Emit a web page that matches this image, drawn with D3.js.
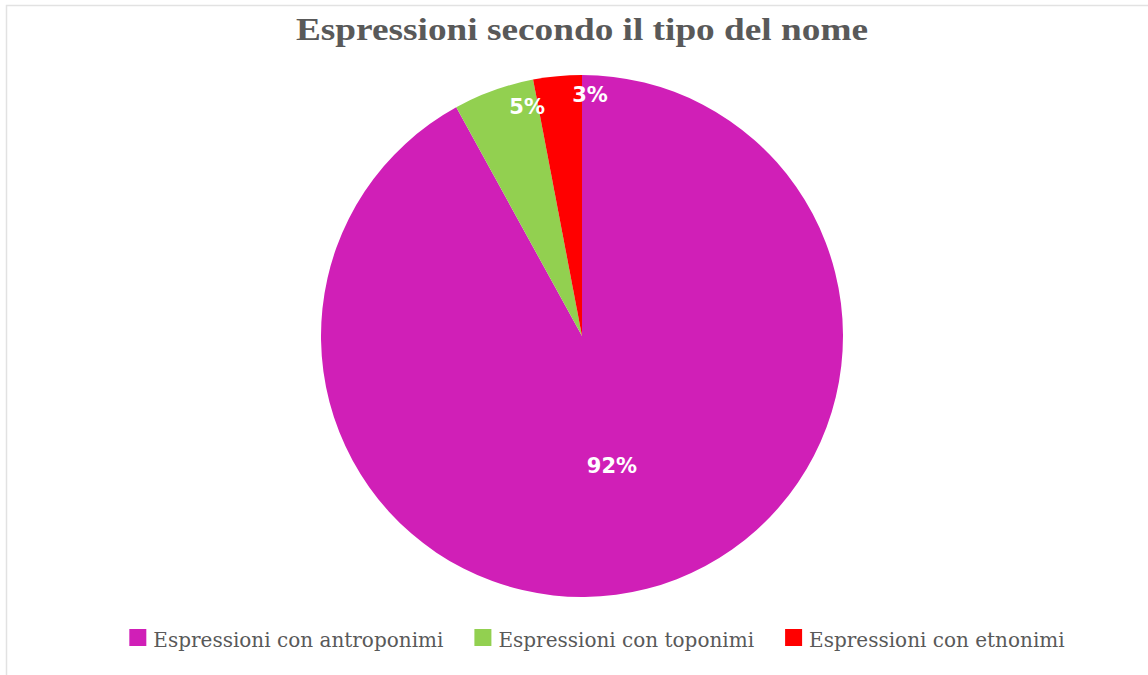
<!DOCTYPE html>
<html>
<head>
<meta charset="utf-8">
<script src="https://d3js.org/d3.v7.min.js"></script>
<style>
  body { margin: 0; background: #fff; }
</style>
</head>
<body>
<div id="chart"></div>
<script>

var categories = ["Espressioni con antroponimi", "Espressioni con toponimi", "Espressioni con etnonimi"];
var values = [92, 5, 3];
var colors = ["#D01FB7", "#92D050", "#FF0000"];

var width = 1148, height = 675;
var cx = 582, cy = 336, radius = 261;

var svg = d3.select("#chart")
  .append("svg")
    .attr("width", width)
    .attr("height", height);

// chart frame (only top and left edges visible)
svg.append("rect")
  .attr("x", 6.5)
  .attr("y", 5.5)
  .attr("width", width + 20)
  .attr("height", height + 20)
  .attr("fill", "#fff")
  .attr("stroke", "#e2e2e2")
  .attr("stroke-width", 1.5);

svg.append("text")
  .attr("x", cx)
  .attr("y", 40)
  .attr("text-anchor", "middle")
  .attr("textLength", 572)
  .attr("lengthAdjust", "spacingAndGlyphs")
  .style("font-family", "'Liberation Serif', 'Times New Roman', serif")
  .style("font-weight", "bold")
  .style("font-size", "31px")
  .style("fill", "#595959")
  .text("Espressioni secondo il tipo del nome");

var pie = d3.pie().sort(null).value(function(d) { return d; });
var arcs = pie(values);

var arc = d3.arc().innerRadius(0).outerRadius(radius);

var g = svg.append("g")
  .attr("transform", "translate(" + cx + "," + cy + ")");

g.selectAll("path")
  .data(arcs)
  .enter().append("path")
    .attr("d", arc)
    .attr("fill", function(d, i) { return colors[i]; });

// label placement: fraction of radius and angle shift (degrees) from slice middle
var labelR = [0.51, 0.906, 0.927];
var labelShift = [1.4, 6.4, 7.3];

g.selectAll("text.lbl")
  .data(arcs)
  .enter().append("text")
    .attr("class", "lbl")
    .attr("transform", function(d, i) {
      var a = (d.startAngle + d.endAngle) / 2 + labelShift[i] * Math.PI / 180;
      var r = radius * labelR[i];
      return "translate(" + (r * Math.sin(a)) + "," + (-r * Math.cos(a)) + ")";
    })
    .attr("text-anchor", "middle")
    .attr("dy", "0.36em")
    .style("font-family", "'DejaVu Sans', sans-serif")
    .style("font-weight", "bold")
    .style("font-size", "21px")
    .style("fill", "#fff")
    .text(function(d) { return d.data + "%"; });

// legend
var legend = svg.append("g");
var items = legend.selectAll("g")
  .data(categories)
  .enter().append("g");

items.append("rect")
  .attr("width", 17)
  .attr("height", 17)
  .attr("y", -18)
  .attr("fill", function(d, i) { return colors[i]; });

items.append("text")
  .attr("x", 24)
  .style("font-family", "'DejaVu Serif', serif")
  .style("font-size", "20px")
  .style("fill", "#595959")
  .text(function(d) { return d; });

var x = 0, gap = 31;
items.each(function() {
  var w = 24 + d3.select(this).select("text").node().getComputedTextLength();
  d3.select(this).attr("transform", "translate(" + x + ",0)");
  x += w + gap;
});
var total = x - gap;
legend.attr("transform", "translate(" + (597 - total / 2) + ",647)");

</script>
</body>
</html>
